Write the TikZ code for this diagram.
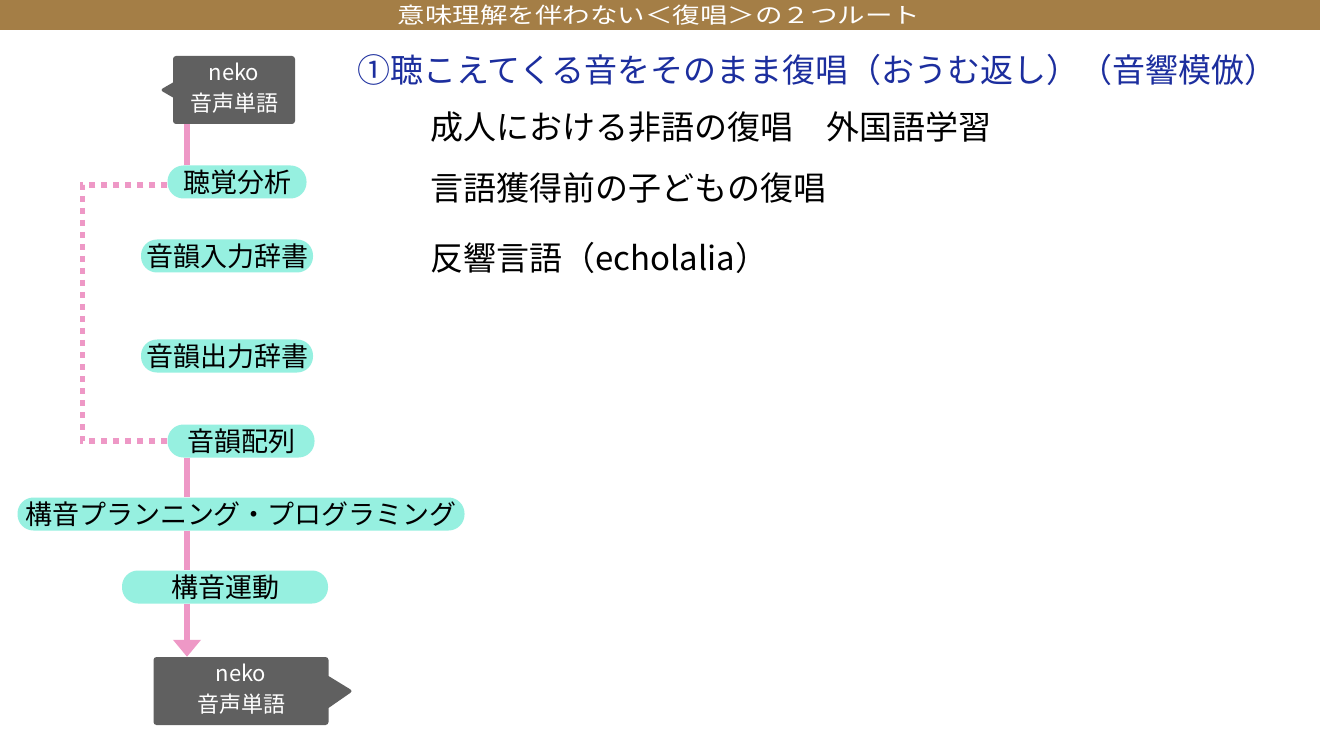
\documentclass[tikz,border=0pt]{standalone}
\usepackage{fontspec}
\usepackage{graphicx}
\setmainfont{Noto Sans CJK JP}
\usetikzlibrary{arrows.meta}
\usetikzlibrary{positioning}
\usetikzlibrary{shapes.callouts}
\definecolor{bar}{RGB}{164,126,70}
\definecolor{pill}{RGB}{150,240,224}
\definecolor{route}{RGB}{238,152,198}
\definecolor{slate}{RGB}{96,96,96}
\definecolor{heading}{RGB}{28,46,158}
\newcommand{\px}[1]{\fontsize{#1}{1.2\dimexpr#1pt\relax}\selectfont}
\newcommand{\voice}{%
    \begin{tabular}{c}
        neko \\
        音声単語
    \end{tabular}%
}
\def\RouteOne{①聴こえてくる音をそのまま復唱（おうむ返し）（音響模倣）}
\def\AdultCase{成人における非語の復唱　外国語学習}
\def\ChildCase{言語獲得前の子どもの復唱}
\def\EchoCase{反響言語（echolalia）}

\begin{document}
\begin{tikzpicture}[x=1pt, y=-1pt,
                    stage/.style={fill=pill, rounded corners=16pt,
                                  minimum height=33pt, inner sep=0pt,
                                  font=\px{27}},
                    bubble/.style={rectangle callout, fill=slate, text=white,
                                   rounded corners=3pt, inner sep=0pt,
                                   font=\fontsize{22}{31}\selectfont},
                    case/.style={anchor=west, inner sep=0pt, font=\px{33}},
                    route line/.style={draw=route, line width=6pt},
                    loop line/.style={draw=route, line width=5.5pt,
                                      dash pattern=on 6pt off 6pt}]

    \useasboundingbox (0,0) rectangle (1320,743);
    \fill[white] (0,0) rectangle (1320,743);
    \fill[bar] (0,0) rectangle (1320,30);
    \node[text=white] (title) at (659,15)
        {\scalebox{1}[0.8]{\px{27.5}意味理解を伴わない＜復唱＞の２つルート}};

    \coordinate (spine) at (187,0);

    \node[bubble, minimum width=122pt, minimum height=68pt,
          callout absolute pointer={(160,90)}, callout pointer width=15pt]
          (inp) at (234,90) {\voice};
    \node[stage, minimum width=139pt] (hear)  at (237,182) {聴覚分析};
    \node[stage, minimum width=172pt] (lexin) at (227,256) {音韻入力辞書};
    \node[stage, minimum width=172pt] (lexout) at (227,356) {音韻出力辞書};
    \node[stage, minimum width=147pt] (order) at (241,441) {音韻配列};
    \node[stage, minimum width=447pt] (plan)  at (241,514) {構音プランニング・プログラミング};
    \node[stage, minimum width=206pt] (motor) at (225,587) {構音運動};
    \node[bubble, minimum width=175pt, minimum height=68pt,
          callout absolute pointer={(353,691)}, callout pointer width=32pt]
          (outp) at (241,691) {\voice};

    \draw[route line] (inp.south -| spine) -- (hear.north -| spine);
    \draw[route line] (order.south -| spine) -- (plan.north -| spine);
    \draw[route line] (plan.south -| spine) -- (motor.north -| spine);
    \draw[route line, -{Triangle[length=17pt, width=27pt]}]
        (motor.south -| spine) -- (outp.north -| spine);
    \draw[loop line] ([yshift=-3pt]hear.west) -- ++(-85,0) |- (order.west);

    \node[case, text=heading] (one) at (357,70) {\RouteOne};
    \node[case] (adult) at (430,127) {\AdultCase};
    \node[case] (child) at (430,188) {\ChildCase};
    \node[case] (echo)  at (430,258) {\EchoCase};
\end{tikzpicture}
\end{document}
